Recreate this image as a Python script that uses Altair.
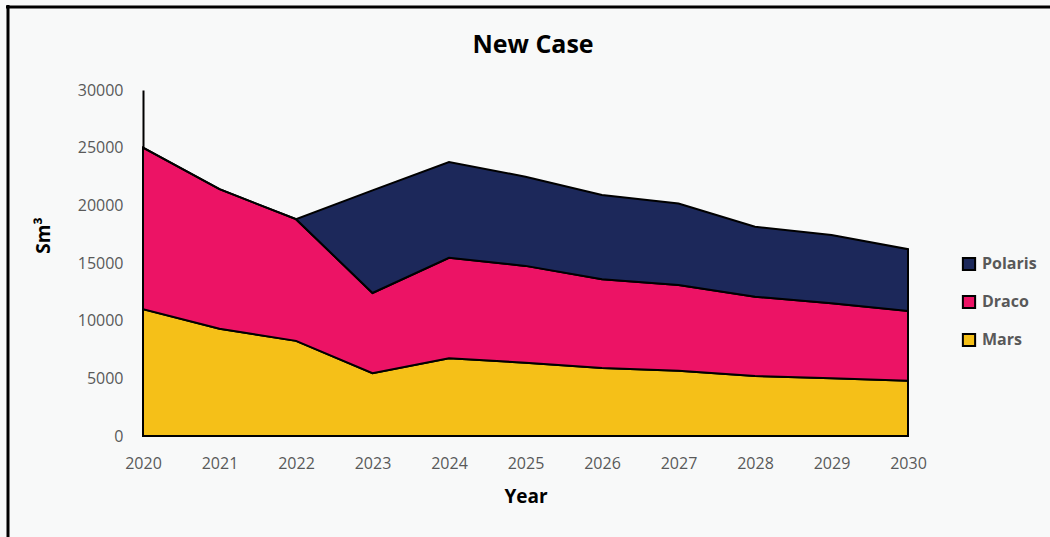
import altair as alt
import pandas as pd

years = [2020, 2021, 2022, 2023, 2024, 2025, 2026, 2027, 2028, 2029, 2030]
mars = [11000, 9300, 8250, 5450, 6750, 6350, 5900, 5650, 5200, 5000, 4800]
draco = [14000, 12100, 10550, 6950, 8700, 8400, 7700, 7450, 6880, 6500, 6040]
polaris = [0, 0, 0, 8900, 8310, 7730, 7300, 7050, 6070, 5930, 5360]

series_names = ["Polaris", "Draco", "Mars"]
series_colors = ["#1C285A", "#EC1365", "#F5C018"]
stack_order = {"Mars": 0, "Draco": 1, "Polaris": 2}

rows = []
for name, vals in [("Mars", mars), ("Draco", draco), ("Polaris", polaris)]:
    for yr, v in zip(years, vals):
        rows.append({"Year": yr, "Value": v, "Series": name, "ord": stack_order[name]})
df = pd.DataFrame(rows)

FONT = "Open Sans"
TITLE_FONT = "Open Sans"

areas = alt.Chart(df).mark_area(stroke="black", strokeWidth=2, opacity=1).encode(
    x=alt.X("Year:Q", scale=alt.Scale(domain=[2020, 2030], nice=False, zero=False),
            axis=alt.Axis(values=years, format="d", title="Year", domain=False, ticks=False,
                          grid=False, labelFont=FONT, labelFontSize=16, labelColor="#595959",
                          labelPadding=19, labelFlush=False, labelOverlap=False,
                          titleFont=TITLE_FONT, titleFontSize=19,
                          titleFontWeight="bold", titleColor="black", titlePadding=16)),
    y=alt.Y("Value:Q", stack="zero", scale=alt.Scale(domain=[0, 30000], nice=False),
            axis=alt.Axis(values=[0, 5000, 10000, 15000, 20000, 25000, 30000], format="d",
                          title="Sm³", domain=True, domainColor="black", domainWidth=2,
                          ticks=False, grid=False, labelFont=FONT, labelFontSize=16,
                          labelColor="#595959", labelPadding=20, labelFlush=False,
                          titleFont=TITLE_FONT,
                          titleFontSize=19, titleFontWeight="bold", titleColor="black",
                          titlePadding=24, titleY=145)),
    color=alt.Color("Series:N", scale=alt.Scale(domain=series_names, range=series_colors),
                    legend=alt.Legend(title=None, orient="none", legendX=818, legendY=166,
                                      symbolType="square", symbolSize=150,
                                      symbolStrokeColor="black", symbolStrokeWidth=2,
                                      labelFont=FONT, labelFontSize=16, labelFontWeight="bold",
                                      labelColor="#595959", rowPadding=16, labelOffset=5)),
    order=alt.Order("ord:Q", sort="ascending"),
)

title_df = pd.DataFrame({"t": ["New Case"]})
title = alt.Chart(title_df).mark_text(
    font=TITLE_FONT, fontSize=25, fontWeight="bold", color="black",
    align="center", baseline="middle").encode(
    text="t:N", x=alt.value(390), y=alt.value(-45))

frame_top = alt.Chart(title_df).mark_rule(color="black", strokeWidth=3).encode(
    x=alt.value(-137), x2=alt.value(910), y=alt.value(-83))
frame_left = alt.Chart(title_df).mark_rule(color="black", strokeWidth=3).encode(
    x=alt.value(-135), y=alt.value(-85), y2=alt.value(450))

chart = alt.layer(areas, title, frame_top, frame_left).properties(
    width=765, height=346,
    autosize=alt.AutoSizeParams(type="none"),
    padding={"left": 143, "top": 90, "right": 142, "bottom": 101},
    background="#F8F9F9",
).configure_view(stroke=None)

chart.save("out.html", embed_options={"renderer": "svg", "actions": False})
